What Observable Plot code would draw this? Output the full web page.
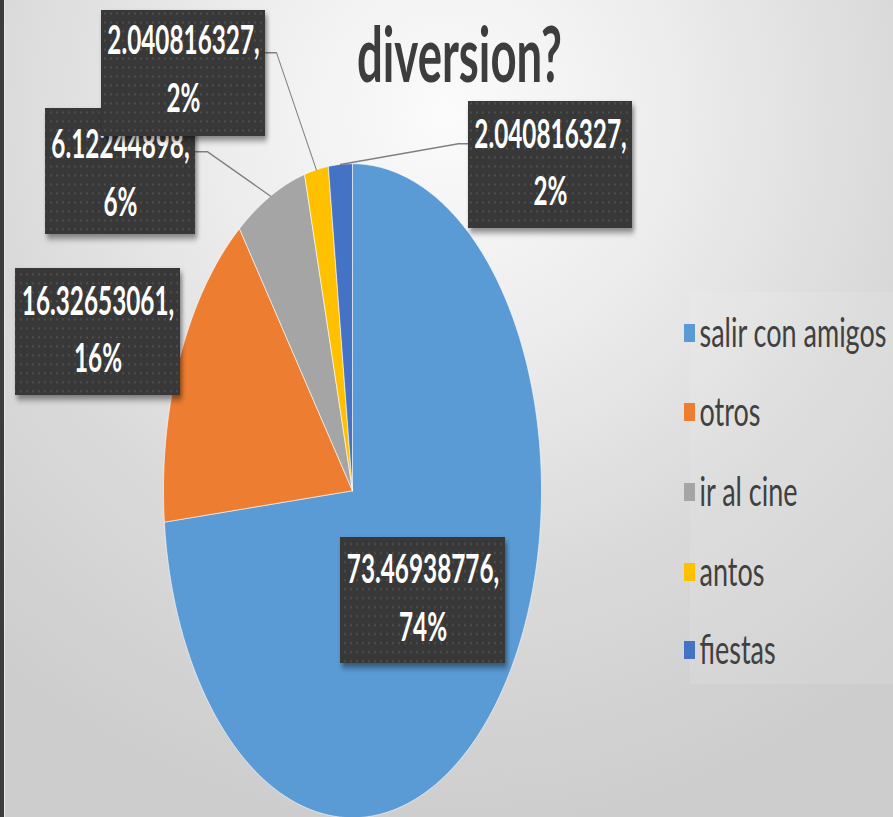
<!DOCTYPE html>
<html><head><meta charset="utf-8">
<script src="https://cdn.jsdelivr.net/npm/d3@7"></script>
<script src="https://cdn.jsdelivr.net/npm/@observablehq/plot@0.6"></script>
<style>
html,body{margin:0;padding:0;}
body{width:893px;height:817px;overflow:hidden;position:relative;
background: radial-gradient(ellipse 78% 88% at 50% 14%, #fbfbfb 0%, #eeeeee 30%, #dadada 65%, #cdcdcd 100%);}
#strip{position:absolute;left:0;top:0;width:4px;height:817px;background:#3c3c3c;border-right:1px solid #e6e6e6;}
#chart{position:absolute;left:0;top:0;}
</style></head><body><div id="strip"></div><div id="chart"></div>
<script>
// ---- data ----
const categories = ["salir con amigos", "otros", "ir al cine", "antos", "fiestas"];
const values = [73.46938776, 16.32653061, 6.12244898, 2.040816327, 2.040816327];
const percentLabels = ["74%", "16%", "6%", "2%", "2%"];
const colors = ["#5B9BD5", "#ED7D31", "#A5A5A5", "#FFC000", "#4472C4"];
const titleText = "diversion?";

// ---- layout (final pixel space) ----
const W = 893, FINAL_H = 817, H = 545, S = FINAL_H / H;
const cx = 352, cy = 490, rx = 189, ry = 327;
const X = px => (px - cx) / rx;
const Y = py => (cy - py) / ry;
const labelBoxes = [
  [340, 537, 505, 663],
  [15, 268, 180, 395],
  [45, 108, 195, 234],
  [101, 10, 265, 136],
  [468, 101, 632, 228]
];
const labelTextShift = [-7, -7, -3, -9, -7];
const leaderElbows = [null, null, [[195, 151], [207, 151]], [[265, 52], [276, 52]], [[468, 143], [458, 143]]];
const legendY = [333, 412, 492, 572, 650];
const LABEL_FS = 27, TITLE_FS = 51;

// ---- slices ----
const total = d3.sum(values);
let acc = 0;
const slices = categories.map((name, i) => {
  const a0 = acc / total * 2 * Math.PI; acc += values[i]; const a1 = acc / total * 2 * Math.PI;
  const n = Math.max(2, Math.ceil((a1 - a0) / (Math.PI / 360)));
  const pts = [{x: 0, y: 0, name}];
  for (let k = 0; k <= n; k++) { const a = a0 + (a1 - a0) * k / n; pts.push({x: Math.sin(a), y: Math.cos(a), name}); }
  pts.push({x: 0, y: 0, name});
  return {name, i, mid: (a0 + a1) / 2, pts};
});

const marks = [];
// legend background
marks.push(Plot.rect([0], {x1: () => X(690), x2: () => X(893), y1: () => Y(292), y2: () => Y(684), fill: "white", fillOpacity: 0.1}));
// pie slices
slices.forEach(s => marks.push(Plot.line(s.pts, {x: "x", y: "y", fill: "name", stroke: "#ffffff", strokeWidth: 0.6, strokeOpacity: 0.8})));
// leader lines
slices.forEach(s => {
  const e = leaderElbows[s.i];
  if (!e) return;
  const pts = e.map(p => ({x: X(p[0]), y: Y(p[1])})).concat([{x: Math.sin(s.mid), y: Math.cos(s.mid)}]);
  marks.push(Plot.line(pts, {x: "x", y: "y", stroke: "#7f7f7f", strokeWidth: 1}));
});
// data labels (box + text), in order so later boxes overlap earlier ones
slices.forEach(s => {
  const b = labelBoxes[s.i];
  marks.push(Plot.rect([b], {x1: d => X(d[0]), x2: d => X(d[2]), y1: d => Y(d[1]), y2: d => Y(d[3]), fill: "url(#dots)"}));
  marks.push(Plot.text([s], {
    x: () => X((b[0] + b[2]) / 2), y: () => Y((b[1] + b[3]) / 2 + labelTextShift[s.i]),
    text: d => `${values[d.i]},\n${percentLabels[d.i]}`,
    fill: "white", fontSize: LABEL_FS, fontWeight: "bold", lineHeight: 1.41, textAnchor: "middle"
  }));
});
// title
marks.push(Plot.text([titleText], {x: () => X(459), y: () => Y(57), text: d => d, fontSize: TITLE_FS, fontWeight: "bold", fill: "#3d3d3d"}));
// legend
marks.push(Plot.rect(categories, {x1: () => X(684), x2: () => X(695), y1: (d, i) => Y(legendY[i] - 9), y2: (d, i) => Y(legendY[i] + 9), fill: d => d}));
marks.push(Plot.text(categories, {x: () => X(699), y: (d, i) => Y(legendY[i]), text: d => d, textAnchor: "start", fontSize: 27, fill: "#404040"}));

const svg = Plot.plot({
  width: W, height: H,
  marginLeft: cx - rx, marginRight: W - (cx + rx),
  marginTop: (cy - ry) / S, marginBottom: H - (cy + ry) / S,
  x: {domain: [-1, 1], axis: null},
  y: {domain: [-1, 1], axis: null},
  color: {domain: categories, range: colors},
  style: {fontFamily: "Lato", background: "transparent"},
  marks
});
const ns = "http://www.w3.org/2000/svg";
const defs = document.createElementNS(ns, "defs");
defs.innerHTML = '<pattern id="dots" width="6" height="6" patternUnits="userSpaceOnUse"><rect width="6" height="6" fill="#383838"/><circle cx="3" cy="3" r="0.9" fill="#505050"/></pattern>';
svg.insertBefore(defs, svg.firstChild);
svg.querySelectorAll('g[fill="url(#dots)"]').forEach(g => g.style.filter = "drop-shadow(2px 3px 2px rgba(0,0,0,0.45))");
svg.setAttribute("height", FINAL_H);
svg.setAttribute("preserveAspectRatio", "none");
svg.style.height = FINAL_H + "px";
svg.style.width = W + "px";
svg.style.maxWidth = "none";
svg.style.background = "none";
document.getElementById("chart").appendChild(svg);

// horizontal condensing of text (Calibri-like narrow glyphs)
function condense(text, k) {
  const bb = text.getBBox();
  const anchor = text.closest("[text-anchor]")?.getAttribute("text-anchor") || "start";
  const ax = anchor === "middle" ? bb.x + bb.width / 2 : anchor === "end" ? bb.x + bb.width : bb.x;
  const t = text.getAttribute("transform") || "";
  text.setAttribute("transform", `${t} translate(${ax} 0) scale(${k} 1) translate(${-ax} 0)`);
}
svg.querySelectorAll('g[fill="white"] text').forEach(t => condense(t, 0.9));
svg.querySelectorAll('g[fill="#3d3d3d"] text').forEach(t => condense(t, 205 / t.getBBox().width));
</script>
</body></html>
